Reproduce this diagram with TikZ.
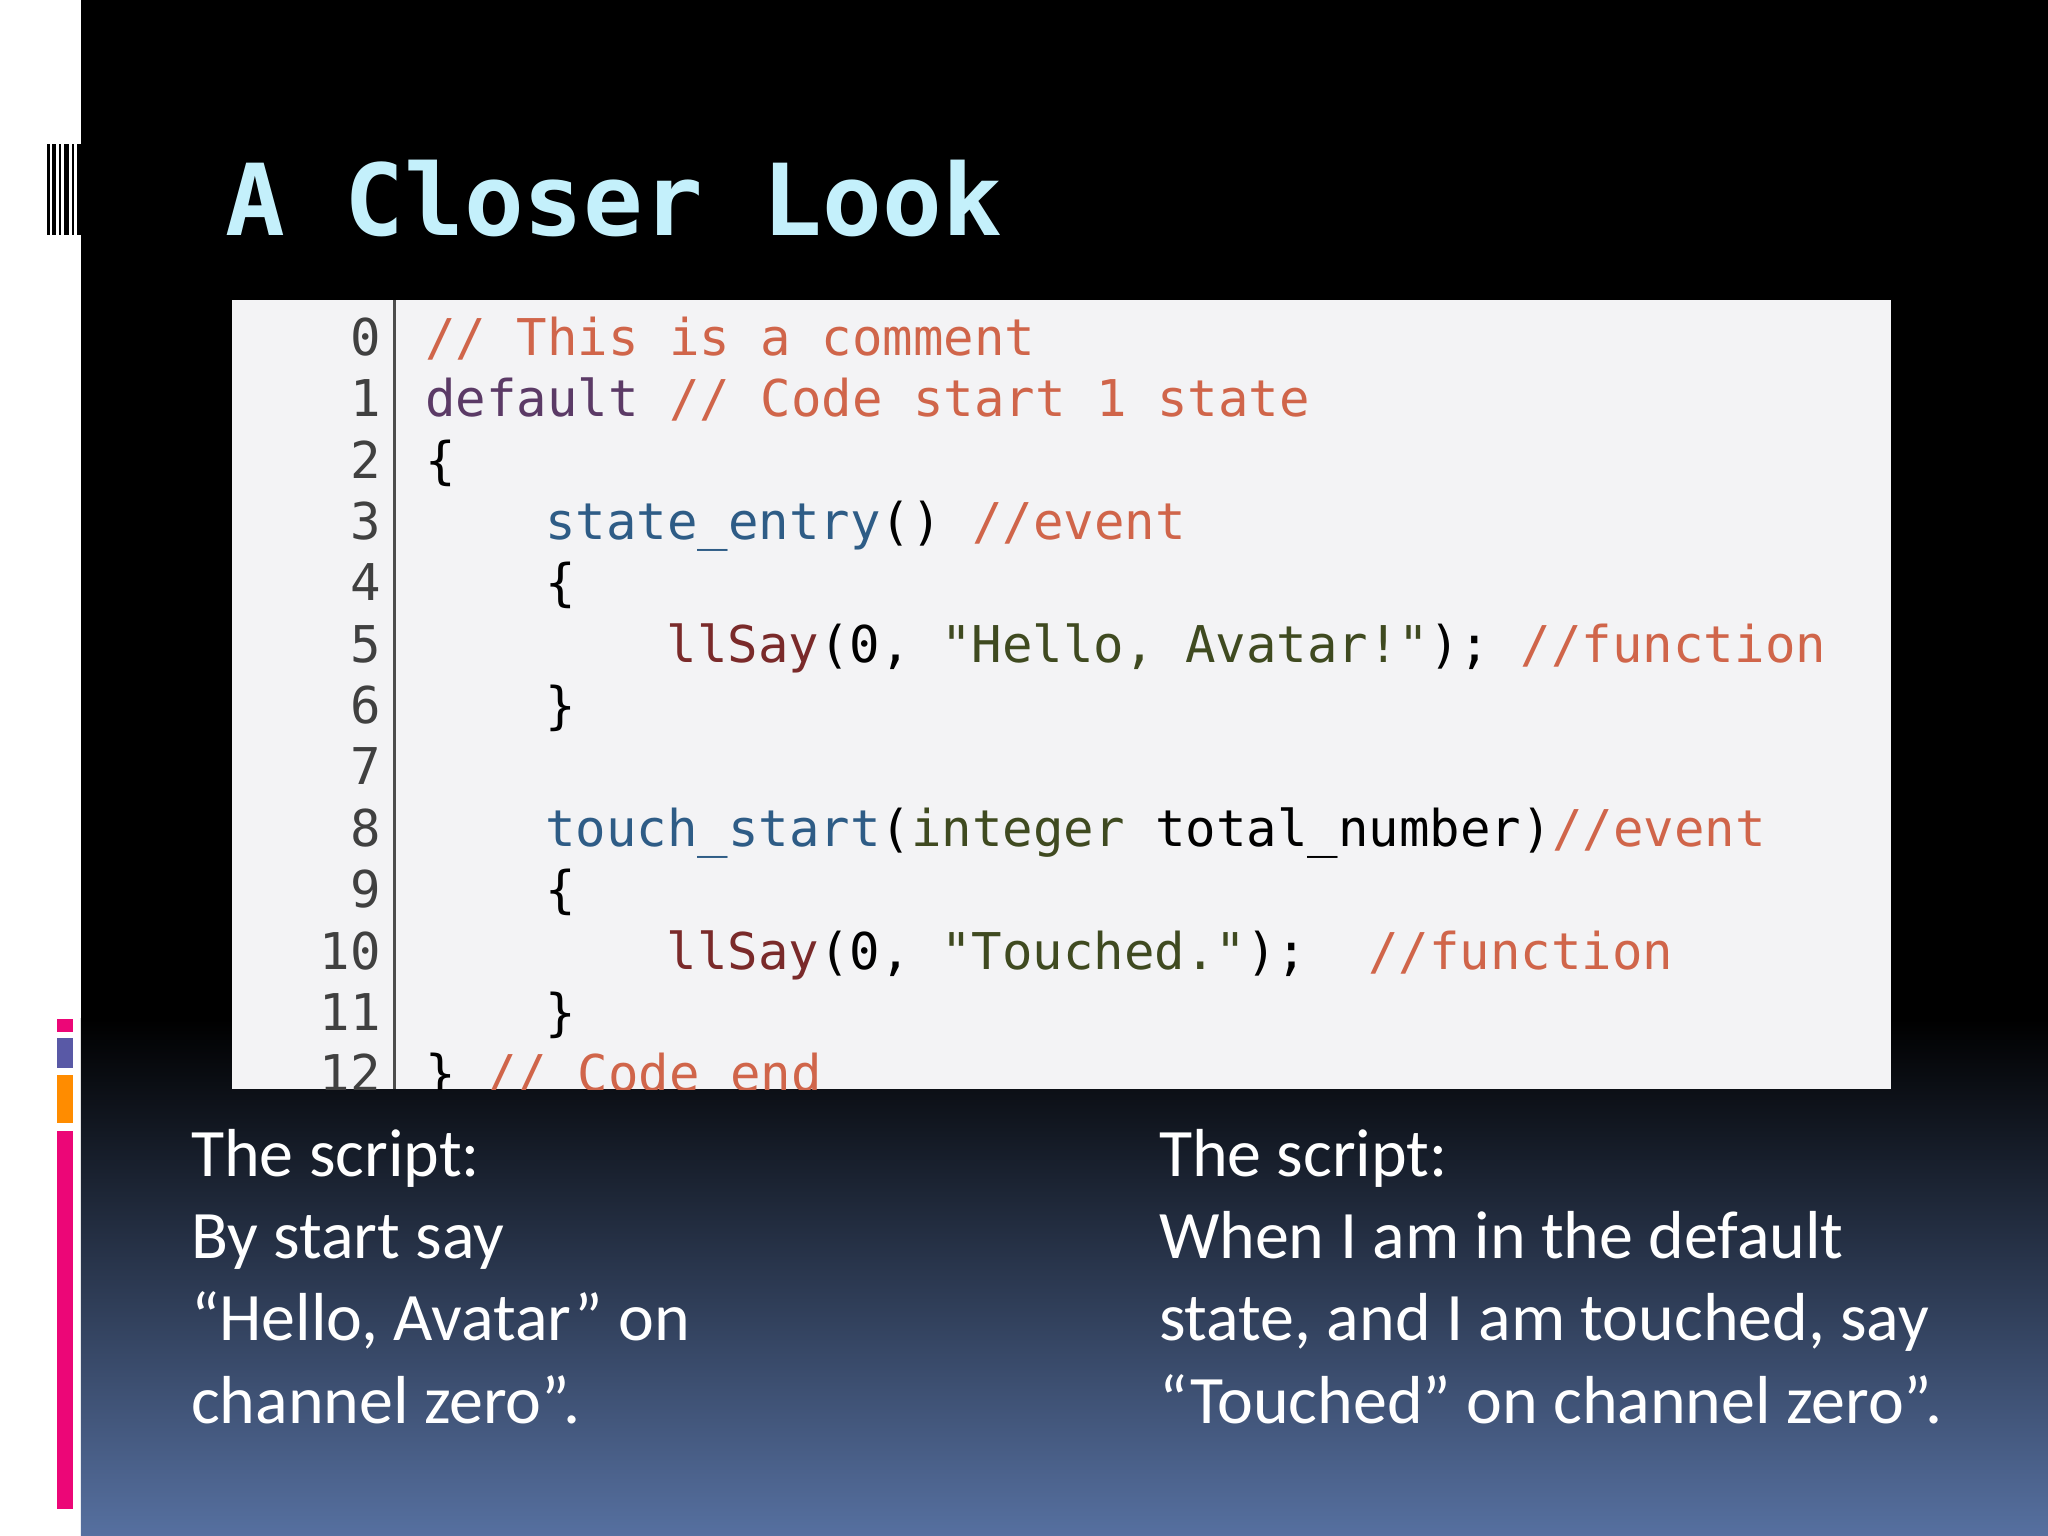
\documentclass[tikz,border=0pt]{standalone}
\usepackage{fontspec}
\setmainfont{Carlito}[Ligatures=ResetAll]
\newfontfamily\codefont{DejaVu Sans Mono}
\usetikzlibrary{positioning}
\definecolor{titlec}{HTML}{C4F0FB}
\definecolor{cmt}{HTML}{D0654A}
\definecolor{kw}{HTML}{5B3A66}
\definecolor{ev}{HTML}{2E5C86}
\definecolor{fn}{HTML}{7A2A2A}
\definecolor{strc}{HTML}{3F4A20}
\definecolor{boxc}{HTML}{F3F3F5}
\definecolor{botc}{HTML}{5670A0}
\begin{document}
\begin{tikzpicture}[x=0.5pt,y=-0.5pt,
  code/.style={anchor=base west,inner sep=0,font=\codefont\fontsize{19.4}{19}\selectfont},
  num/.style={anchor=base east,inner sep=0,font=\codefont\fontsize{19.4}{19}\selectfont,text=black!75},
  body/.style={anchor=north west,inner sep=0,text=white,font=\fontsize{26}{31.5}\selectfont,align=left}]
\useasboundingbox (0,0) rectangle (1568,1176);
\fill[white] (0,0) rectangle (62,1176);
\fill[black] (62,0) rectangle (1568,780);
\shade[top color=black,bottom color=botc] (62,780) rectangle (1568,1176);
% barcode
\foreach \x/\w in {36/2,40/3,45/2,49/4,55/2,59/3}{\fill[black] (\x,110) rectangle (\x+\w,180);}
\fill[magenta!80!red] (44,780) rectangle (56,790);
\fill[gray!70!blue] (44,795) rectangle (56,818);
\fill[orange!90!yellow] (44,823) rectangle (56,860);
\fill[magenta!80!red] (44,866) rectangle (56,1155);
\node[anchor=base west,inner sep=0,text=titlec,font=\codefont\bfseries\fontsize{38}{38}\selectfont] (title) at (172,180) {A Closer Look};
% code box
\fill[boxc] (178,230) rectangle (1448,834);
\draw[black!70,line width=1pt] (302,230) -- (302,834);
\begin{scope}
\clip (178,230) rectangle (1448,834);
\foreach \i in {0,...,12}{\node[num] at (292,{272+47*\i}) {\i};}
\node[code,text=cmt] (l0) at (325,272) {// This is a comment};
\node[code] (l1) at (325,319) {\textcolor{kw}{default} \textcolor{cmt}{// Code start 1 state}};
\node[code,text=black] (l2) at (325,366) {\{};
\node[code] (l3) at (417,413) {\textcolor{ev}{state\_entry}\textcolor{black}{()} \textcolor{cmt}{//event}};
\node[code,text=black] (l4) at (417,460) {\{};
\node[code] (l5) at (510,507) {\textcolor{fn}{llSay}\textcolor{black}{(0, }\textcolor{strc}{"Hello, Avatar!"}\textcolor{black}{);} \textcolor{cmt}{//function}};
\node[code,text=black] (l6) at (417,554) {\}};
\node[code] (l8) at (417,648) {\textcolor{ev}{touch\_start}\textcolor{black}{(}\textcolor{strc}{integer} \textcolor{black}{total\_number)}\textcolor{cmt}{//event}};
\node[code,text=black] (l9) at (417,695) {\{};
\node[code] (l10) at (510,742) {\textcolor{fn}{llSay}\textcolor{black}{(0, }\textcolor{strc}{"Touched."}\textcolor{black}{);}~~\textcolor{cmt}{//function}};
\node[code,text=black] (l11) at (417,789) {\}};
\node[code] (l12) at (325,836) {\textcolor{black}{\}} \textcolor{cmt}{// Code end}};
\end{scope}
\node[body] (left) at (146,864) {The script:\\By start say\\“Hello, Avatar" on\\channel zero".};
\node[body] (right) at (887,864) {The script:\\When I am in the default\\state, and I am touched, say\\“Touched" on channel zero".};
\end{tikzpicture}
\end{document}
